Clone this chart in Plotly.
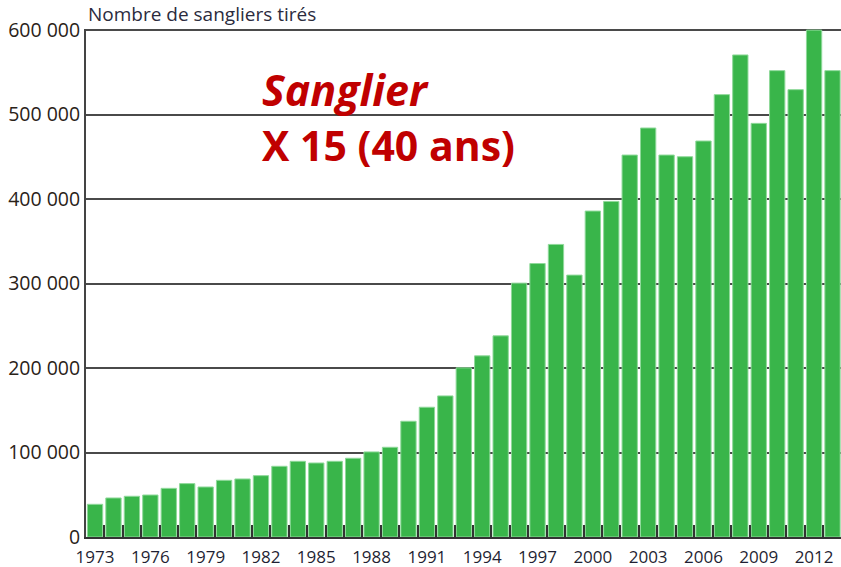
import plotly.graph_objects as go

years = list(range(1973, 2014))
kills = [38700, 46200, 48200, 49700, 57600, 63200, 59200, 67100, 68700, 72600,
         83700, 89600, 87600, 89600, 93200, 100700, 106200, 137000, 153600, 167000,
         200200, 214400, 238100, 300500, 323700, 346300, 310000, 385800, 397200, 452100,
         484100, 452100, 450100, 468700, 523600, 570600, 489600, 552000, 529500, 600000,
         552000]
x_tick_years = list(range(1973, 2014, 3))
y_ticks = [0, 100000, 200000, 300000, 400000, 500000, 600000]
y_tick_text = ["0", "100 000", "200 000", "300 000", "400 000", "500 000", "600 000"]
y_title = "Nombre de sangliers tirés"
note_line1 = "Sanglier"
note_line2 = "X 15 (40 ans)"

fig = go.Figure()
fig.add_trace(go.Bar(
    x=years, y=kills, width=0.83,
    marker=dict(color="#39B54A", line=dict(color="#8FD99A", width=1)),
))

fig.update_layout(
    width=841, height=567,
    margin=dict(l=86, r=0, t=29, b=30),
    paper_bgcolor="white", plot_bgcolor="white",
    showlegend=False,
    font=dict(family="Open Sans", color="#222222"),
    xaxis=dict(
        range=[1972.51, 2013.46], automargin=False,
        tickmode="array", tickvals=x_tick_years,
        ticktext=[str(y) for y in x_tick_years],
        ticks="", showgrid=False, zeroline=False, ticklabelstandoff=4,
        showline=True, linecolor="#333333", linewidth=2,
        tickfont=dict(size=17, color="#1f1f33"),
        minor=dict(tickmode="linear", tick0=1972.5, dtick=1, ticks="inside",
                   ticklen=12, tickcolor="#333333", tickwidth=1.5, showgrid=False),
    ),
    yaxis=dict(
        range=[0, 601300], automargin=False,
        tickmode="array", tickvals=y_ticks, ticktext=y_tick_text,
        showgrid=True, gridcolor="#4a4a4a", gridwidth=1.5,
        zeroline=False,
        showline=True, linecolor="#444444", linewidth=2,
        ticks="", tickfont=dict(size=19.5, color="#2a2218"),
    ),
    annotations=[
        dict(text=y_title, xref="paper", yref="paper", x=0, y=1, xanchor="left",
             yanchor="bottom", yshift=0, showarrow=False,
             font=dict(size=19, color="#2b2b3d")),
        dict(text="<b><i>" + note_line1 + "</i></b>", xref="paper", yref="paper",
             x=(262 - 86) / 755, y=(537 - 89) / 508, xanchor="left", yanchor="middle",
             xshift=-2, showarrow=False, font=dict(size=43, color="#C00000")),
        dict(text="<b>" + note_line2 + "</b>", xref="paper", yref="paper",
             x=(262 - 86) / 755, y=(537 - 145) / 508, xanchor="left", yanchor="middle",
             xshift=-2, showarrow=False, font=dict(size=41, color="#C00000")),
    ],
)

fig.write_html("out.html", config={"displayModeBar": False},
               post_script="document.body.style.margin='0';")
